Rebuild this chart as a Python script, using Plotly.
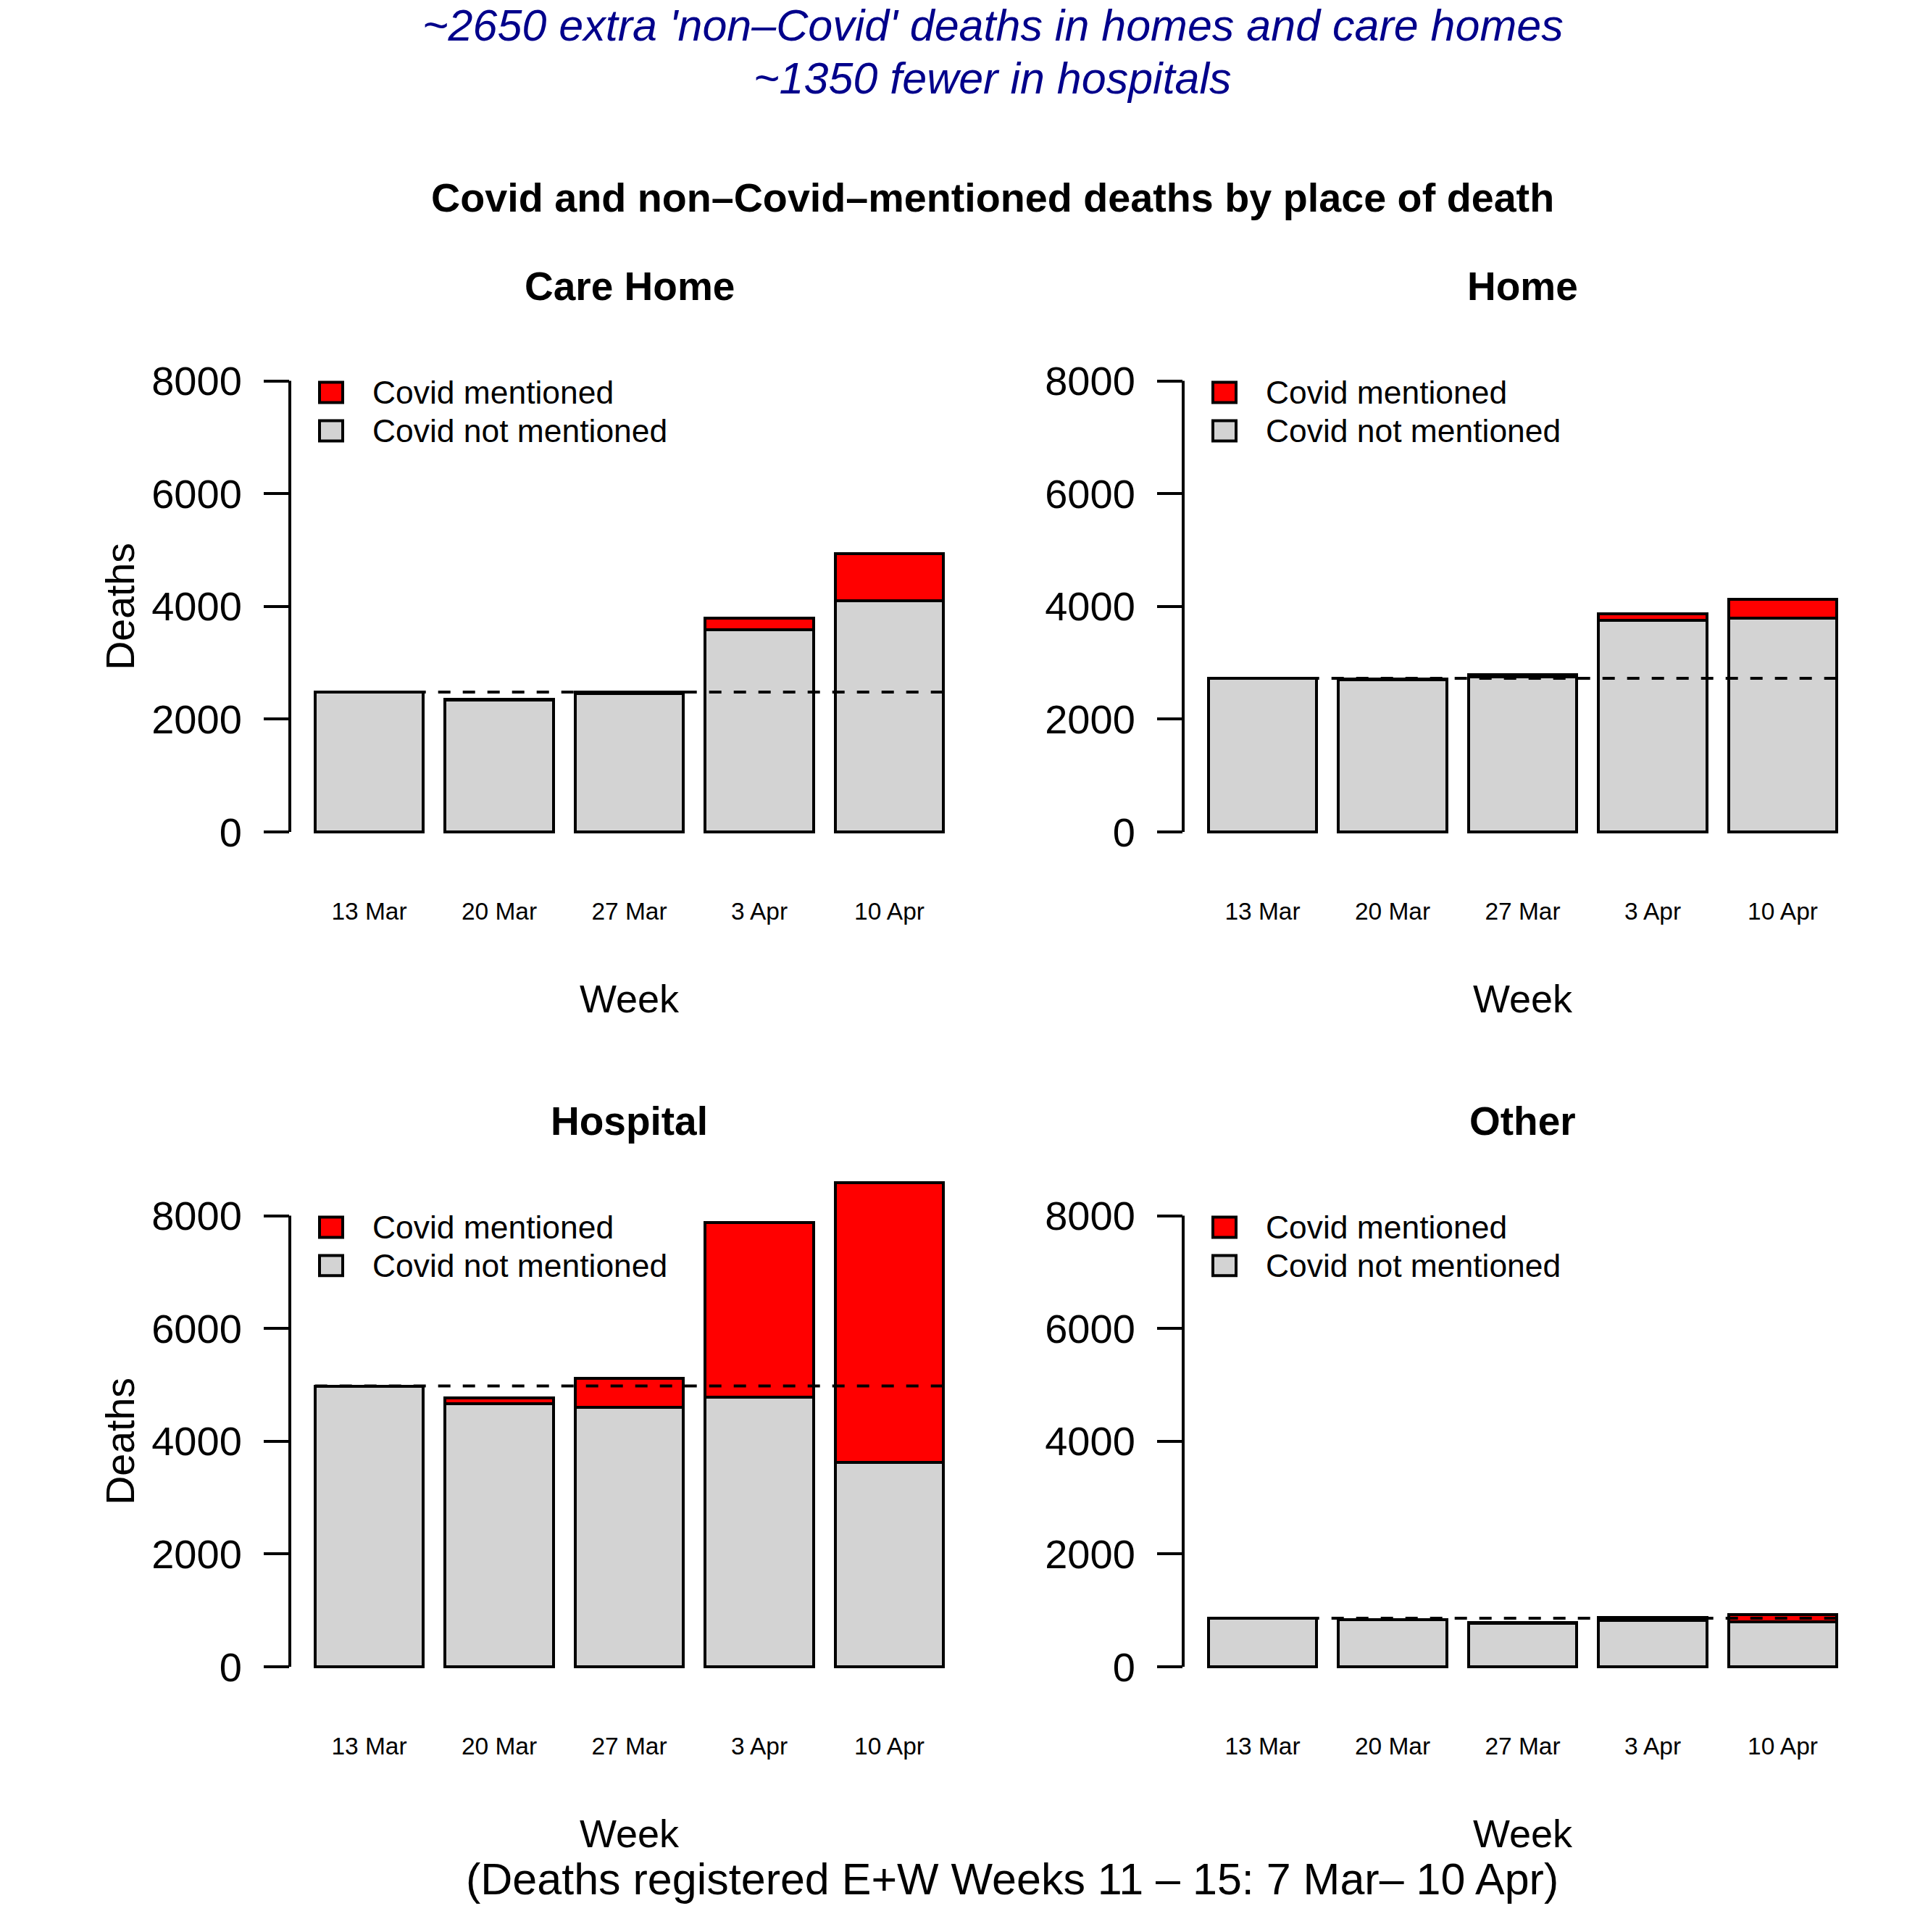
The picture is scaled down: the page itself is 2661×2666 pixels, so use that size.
import plotly.graph_objects as go

W, H = 2661, 2666

# ---------------- data ----------------
weeks = ["13 Mar", "20 Mar", "27 Mar", "3 Apr", "10 Apr"]
places = ["Care Home", "Home", "Hospital", "Other"]

care_not = [2480, 2340, 2460, 3590, 4105]
care_cov = [0, 10, 27, 205, 826]

home_not = [2725, 2705, 2745, 3755, 3795]
home_cov = [0, 8, 45, 120, 325]

hosp_not = [4975, 4670, 4595, 4775, 3620]
hosp_cov = [5, 100, 515, 3110, 4970]

other_not = [860, 838, 775, 818, 798]
other_cov = [0, 0, 5, 58, 122]

not_mentioned = [care_not, home_not, hosp_not, other_not]
covid_mentioned = [care_cov, home_cov, hosp_cov, other_cov]

y_ticks = [0, 2000, 4000, 6000, 8000]
legend_labels = ["Covid mentioned", "Covid not mentioned"]
headline = ["~2650 extra 'non\u2013Covid' deaths in homes and care homes",
            "~1350 fewer in hospitals"]
main_title = "Covid and non\u2013Covid\u2013mentioned deaths by place of death"
caption = "(Deaths registered E+W Weeks 11 \u2013 15: 7 Mar\u2013 10 Apr)"

# ---------------- style / layout ----------------
FONT = "Liberation Sans, Arial, Helvetica, sans-serif"
GREY = "#D3D3D3"
RED = "#FF0000"
LW = 4

def px(x):
    return x / W

def py(y):
    return 1 - y / H

col_x = [(400, 1337), (1633, 2570)]          # plot-region pixel extents
row_zero = [1151, 2306]                      # pixel of y=0 in each row
scale = 624 / 8000                           # px per death
y_range = [-320, 9000]

fig = go.Figure()
shapes = []
annotations = []

for i in range(4):
    r, c = divmod(i, 2)
    n = "" if i == 0 else str(i + 1)
    xa, ya = "x" + n, "y" + n
    x0p, x1p = col_x[c]
    z = row_zero[r]
    ybot = z - y_range[0] * scale
    ytop = z - y_range[1] * scale

    fig.add_trace(go.Bar(x=weeks, y=not_mentioned[i], xaxis=xa, yaxis=ya,
                         marker=dict(color=GREY, line=dict(color="black", width=LW)),
                         name=legend_labels[1], showlegend=False))
    fig.add_trace(go.Bar(x=weeks, y=covid_mentioned[i], xaxis=xa, yaxis=ya,
                         marker=dict(color=RED, line=dict(color="black", width=LW)),
                         name=legend_labels[0], showlegend=False))

    fig.layout["xaxis" + n] = dict(
        domain=[px(x0p), px(x1p)], anchor=ya, type="category",
        range=[-0.61, 4.61], showgrid=False, zeroline=False, showline=False,
        ticks="", tickfont=dict(size=33.5, color="black", family=FONT),
        ticklabelstandoff=62, fixedrange=True)
    fig.layout["yaxis" + n] = dict(
        domain=[py(ybot), py(ytop)], anchor=xa, range=y_range,
        tickvals=y_ticks, ticktext=[str(v) for v in y_ticks],
        ticks="outside", ticklen=35, tickwidth=LW, tickcolor="black",
        tickfont=dict(size=56, color="black", family=FONT),
        ticklabelstandoff=19,
        showgrid=False, zeroline=False, showline=False, fixedrange=True)

    # axis line from first to last tick (R style)
    shapes.append(dict(type="line", xref=xa + " domain", yref=ya,
                       x0=0, x1=0, y0=y_ticks[0], y1=y_ticks[-1],
                       line=dict(color="black", width=LW), layer="above"))
    # dashed baseline = first-week total
    base = not_mentioned[i][0] + covid_mentioned[i][0]
    shapes.append(dict(type="line", xref=xa, yref=ya,
                       x0=-0.4167, x1=4.4167, y0=base, y1=base,
                       line=dict(color="black", width=LW, dash="17px,17px"),
                       layer="above"))

    # legend (drawn R-style)
    lx = x0p + 41
    for k, (lab, colr) in enumerate(zip(legend_labels, [RED, GREY])):
        cy = (z - 8000 * scale) + 16 + k * 53
        shapes.append(dict(type="rect", xref="paper", yref="paper",
                           x0=px(lx), x1=px(lx + 32), y0=py(cy + 14), y1=py(cy - 14),
                           fillcolor=colr, line=dict(color="black", width=LW),
                           layer="above"))
        annotations.append(dict(text=lab, xref="paper", yref="paper",
                                x=px(x0p + 112), y=py(cy), xanchor="left", yanchor="middle",
                                showarrow=False,
                                font=dict(size=44.4, color="black", family=FONT)))

    # panel title
    annotations.append(dict(text="<b>" + places[i] + "</b>", xref="paper", yref="paper",
                            x=px((x0p + x1p) / 2), y=py(z - 755), xanchor="center",
                            yanchor="middle", showarrow=False,
                            font=dict(size=55, color="black", family=FONT)))
    # x title
    annotations.append(dict(text="Week", xref="paper", yref="paper",
                            x=px((x0p + x1p) / 2), y=py(z + 231), xanchor="center",
                            yanchor="middle", showarrow=False,
                            font=dict(size=54, color="black", family=FONT)))
    # y title (left column only)
    if c == 0:
        annotations.append(dict(text="Deaths", xref="paper", yref="paper",
                                x=px(166), y=py((ybot + (z - 8320 * scale)) / 2),
                                xanchor="center", yanchor="middle", textangle=-90,
                                showarrow=False,
                                font=dict(size=55.5, color="black", family=FONT)))

# headline
for k, t in enumerate(headline):
    annotations.append(dict(text="<i>" + t + "</i>", xref="paper", yref="paper",
                            x=px(1370), y=py(35 + 73 * k), xanchor="center",
                            yanchor="middle", showarrow=False,
                            font=dict(size=61, color="darkblue", family=FONT)))
annotations.append(dict(text="<b>" + main_title + "</b>", xref="paper", yref="paper",
                        x=px(1370), y=py(274), xanchor="center", yanchor="middle",
                        showarrow=False, font=dict(size=55.7, color="black", family=FONT)))
annotations.append(dict(text=caption, xref="paper", yref="paper",
                        x=px(1397), y=py(2600), xanchor="center", yanchor="middle",
                        showarrow=False, font=dict(size=61, color="black", family=FONT)))

fig.update_layout(
    width=W, height=H, margin=dict(l=0, r=0, t=0, b=0),
    paper_bgcolor="white", plot_bgcolor="white",
    barmode="stack", bargap=1 / 6,
    showlegend=False, shapes=shapes, annotations=annotations,
    font=dict(family=FONT, color="black"),
)

fig.write_html("out.html",
               config={"displayModeBar": False, "staticPlot": True},
               post_script="document.body.style.margin='0px';"
                           "document.body.style.overflow='hidden';")
